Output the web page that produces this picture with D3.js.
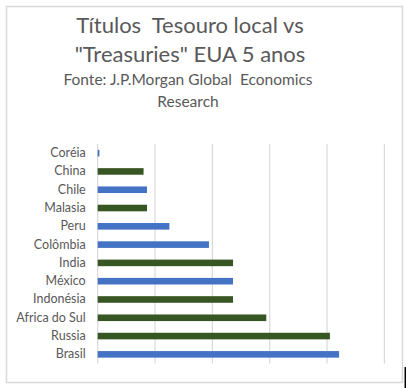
<!DOCTYPE html>
<html><head><meta charset="utf-8">
<script src="https://cdn.jsdelivr.net/npm/d3@7"></script>
<style>body{margin:0;background:#fff}svg{display:block}text{white-space:pre}</style>
</head><body>
<script>
const categories = ["Coréia","China","Chile","Malasia","Peru","Colômbia","India","México","Indonésia","Africa do Sul","Russia","Brasil"];
const values = [0.06,1.6,1.72,1.72,2.5,3.88,4.72,4.72,4.72,5.88,8.1,8.42];
const groups = ["blue","green","blue","green","blue","blue","green","blue","green","green","green","blue"];
const gridTicks = [0,2,4,6,8,10];
const titleLines = ["Títulos  Tesouro local vs","\"Treasuries\" EUA 5 anos"];
const subtitleLines = ["Fonte: J.P.Morgan Global  Economics","Research"];

const W=406,H=388;
const svg=d3.select("body").append("svg").attr("width",W).attr("height",H);
svg.append("rect").attr("x",6.5).attr("y",6.5).attr("width",396).attr("height",376)
  .attr("fill","#fff").attr("stroke","#d9d9d9").attr("stroke-width",1.5);
svg.append("line").attr("x1",405.3).attr("x2",405.3).attr("y1",367).attr("y2",388).attr("stroke","#000").attr("stroke-width",1.5);

const font="Lato, 'Open Sans', sans-serif";
const x=d3.scaleLinear().domain([0,10]).range([97.7,384.4]);
const y=d3.scaleBand().domain(categories).range([144,363.5]).paddingInner(0.64).paddingOuter(0.32);
const color=d3.scaleOrdinal().domain(["blue","green"]).range(["#4472c4","#375623"]);

svg.append("g").selectAll("line").data(gridTicks).join("line")
  .attr("x1",d=>x(d)).attr("x2",d=>x(d)).attr("y1",144).attr("y2",363.5)
  .attr("stroke","#d9d9d9").attr("stroke-width",1.2);

svg.append("g").selectAll("rect").data(categories).join("rect")
  .attr("x",x(0)).attr("y",d=>y(d)).attr("height",y.bandwidth())
  .attr("width",(d,i)=>x(values[i])-x(0)).attr("fill",(d,i)=>color(groups[i]));

const ax=svg.append("g").attr("transform",`translate(${x(0)},0)`).call(d3.axisLeft(y).tickSize(0).tickPadding(12));
ax.select(".domain").remove();
ax.selectAll("text").attr("font-family",font).attr("font-size",12.5).attr("fill","#595959");

svg.append("g").selectAll("text").data(titleLines).join("text")
  .attr("x",190).attr("y",(d,i)=>33+i*29).attr("text-anchor","middle")
  .attr("font-family",font).attr("font-size",22).attr("fill","#595959").text(d=>d);
svg.append("g").selectAll("text").data(subtitleLines).join("text")
  .attr("x",188).attr("y",(d,i)=>85+i*22).attr("text-anchor","middle")
  .attr("font-family",font).attr("font-size",15.5).attr("fill","#595959").text(d=>d);
</script>
</body></html>
